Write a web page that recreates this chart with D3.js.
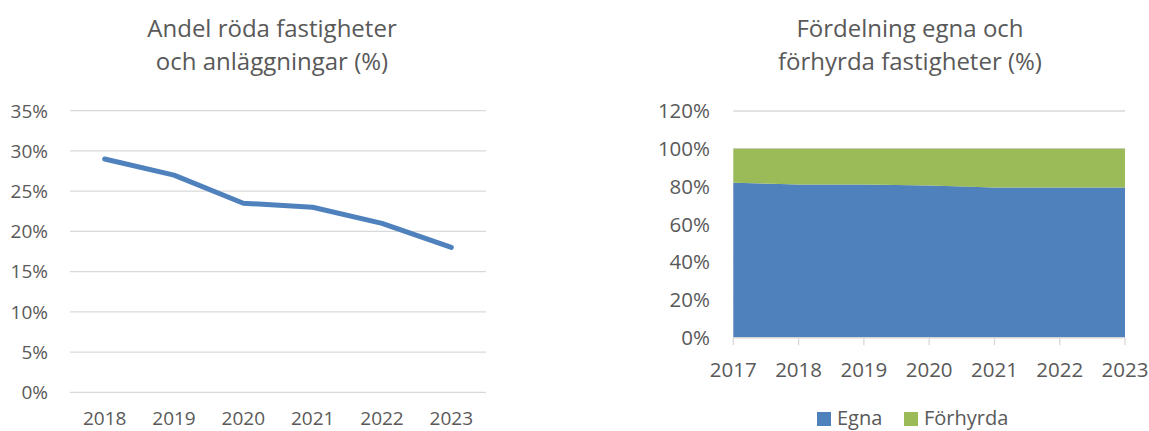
<!DOCTYPE html>
<html>
<head>
<meta charset="utf-8">
<script src="https://cdn.jsdelivr.net/npm/d3@7"></script>
<style>
  body { margin: 0; background: #fff; }
  svg text { font-family: "Open Sans", "Liberation Sans", sans-serif; fill: #595959; }
</style>
</head>
<body>
<div class="chart"></div>
<script>
let lineYears = ["2018", "2019", "2020", "2021", "2022", "2023"];
let rodaAndel = [29, 27, 23.5, 23, 21, 18];
let lineTicks = [0, 5, 10, 15, 20, 25, 30, 35];

let areaYears = ["2017", "2018", "2019", "2020", "2021", "2022", "2023"];
let egna = [82, 81, 81, 80.5, 79.5, 79.5, 79.5];
let forhyrda = [18, 19, 19, 19.5, 20.5, 20.5, 20.5];
let areaTicks = [0, 20, 40, 60, 80, 100, 120];
let seriesNames = ["Egna", "Förhyrda"];
let seriesColors = ["#4F81BD", "#9BBB59"];

let svgWidth = 1149;
let svgHeight = 431;

let svg = d3.select(".chart")
  .append("svg")
  .attr("width", svgWidth)
  .attr("height", svgHeight);

// ---- left chart: line
let left = { x0: 70, x1: 486, y0: 392.3, y1: 110.7 };

let xBand = d3.scaleBand()
  .domain(lineYears)
  .range([left.x0, left.x1]);

let yLeft = d3.scaleLinear()
  .domain([0, 35])
  .range([left.y0, left.y1]);

let leftTitle = svg.append("text")
  .attr("text-anchor", "middle")
  .style("font-size", "24px");
leftTitle.append("tspan").attr("x", 272).attr("y", 36.5).text("Andel röda fastigheter");
leftTitle.append("tspan").attr("x", 272).attr("y", 70).text("och anläggningar (%)");

svg.append("g")
  .selectAll("line")
  .data(lineTicks)
  .enter()
  .append("line")
  .attr("x1", left.x0)
  .attr("x2", left.x1)
  .attr("y1", d => yLeft(d))
  .attr("y2", d => yLeft(d))
  .attr("stroke", "#D9D9D9")
  .attr("stroke-width", 1.3);

svg.append("g")
  .selectAll("text")
  .data(lineTicks)
  .enter()
  .append("text")
  .attr("x", 48)
  .attr("y", d => yLeft(d))
  .attr("dy", "0.36em")
  .attr("text-anchor", "end")
  .style("font-size", "19px")
  .text(d => d + "%");

svg.append("g")
  .selectAll("text")
  .data(lineYears)
  .enter()
  .append("text")
  .attr("x", d => xBand(d) + xBand.bandwidth() / 2)
  .attr("y", 425)
  .attr("text-anchor", "middle")
  .style("font-size", "19px")
  .text(d => d);

let line = d3.line()
  .x((d, i) => xBand(lineYears[i]) + xBand.bandwidth() / 2)
  .y(d => yLeft(d));

svg.append("path")
  .datum(rodaAndel)
  .attr("d", line)
  .attr("fill", "none")
  .attr("stroke", "#4F81BD")
  .attr("stroke-width", 5)
  .attr("stroke-linecap", "round")
  .attr("stroke-linejoin", "round");

// ---- right chart: stacked area
let right = { x0: 733.3, x1: 1125, y0: 337.3, y1: 111 };

let xPoint = d3.scalePoint()
  .domain(areaYears)
  .range([right.x0, right.x1]);

let yRight = d3.scaleLinear()
  .domain([0, 120])
  .range([right.y0, right.y1]);

let rightTitle = svg.append("text")
  .attr("text-anchor", "middle")
  .style("font-size", "24px");
rightTitle.append("tspan").attr("x", 910).attr("y", 36.5).text("Fördelning egna och");
rightTitle.append("tspan").attr("x", 910).attr("y", 70).text("förhyrda fastigheter (%)");

svg.append("g")
  .selectAll("line")
  .data(areaTicks)
  .enter()
  .append("line")
  .attr("x1", right.x0)
  .attr("x2", right.x1)
  .attr("y1", d => yRight(d))
  .attr("y2", d => yRight(d))
  .attr("stroke", "#D9D9D9")
  .attr("stroke-width", 1.3);

let table = areaYears.map((y, i) => ({ year: y, Egna: egna[i], "Förhyrda": forhyrda[i] }));
let stacked = d3.stack().keys(seriesNames)(table);

let area = d3.area()
  .x(d => xPoint(d.data.year))
  .y0(d => yRight(d[0]))
  .y1(d => yRight(d[1]));

svg.append("g")
  .selectAll("path")
  .data(stacked)
  .enter()
  .append("path")
  .attr("d", area)
  .attr("fill", (d, i) => seriesColors[i]);

// bottom axis with ticks
svg.append("line")
  .attr("x1", right.x0)
  .attr("x2", right.x1)
  .attr("y1", right.y0 + 0.5)
  .attr("y2", right.y0 + 0.5)
  .attr("stroke", "#D9D9D9")
  .attr("stroke-width", 1.3);

svg.append("g")
  .selectAll("line")
  .data(areaYears)
  .enter()
  .append("line")
  .attr("x1", d => xPoint(d))
  .attr("x2", d => xPoint(d))
  .attr("y1", right.y0)
  .attr("y2", right.y0 + 8)
  .attr("stroke", "#D9D9D9")
  .attr("stroke-width", 1.3);

svg.append("g")
  .selectAll("text")
  .data(areaTicks)
  .enter()
  .append("text")
  .attr("x", 710)
  .attr("y", d => yRight(d))
  .attr("dy", "0.36em")
  .attr("text-anchor", "end")
  .style("font-size", "20.5px")
  .text(d => d + "%");

svg.append("g")
  .selectAll("text")
  .data(areaYears)
  .enter()
  .append("text")
  .attr("x", d => xPoint(d))
  .attr("y", 377)
  .attr("text-anchor", "middle")
  .style("font-size", "20.5px")
  .text(d => d);

// legend
let legendX = [817, 904];
let legend = svg.append("g")
  .selectAll("g")
  .data(seriesNames)
  .enter()
  .append("g")
  .attr("transform", (d, i) => `translate(${legendX[i]}, 412)`);

legend.append("rect")
  .attr("width", 14)
  .attr("height", 14)
  .attr("fill", (d, i) => seriesColors[i]);

legend.append("text")
  .attr("x", 20)
  .attr("y", 13)
  .style("font-size", "20px")
  .text(d => d);
</script>
</body>
</html>
